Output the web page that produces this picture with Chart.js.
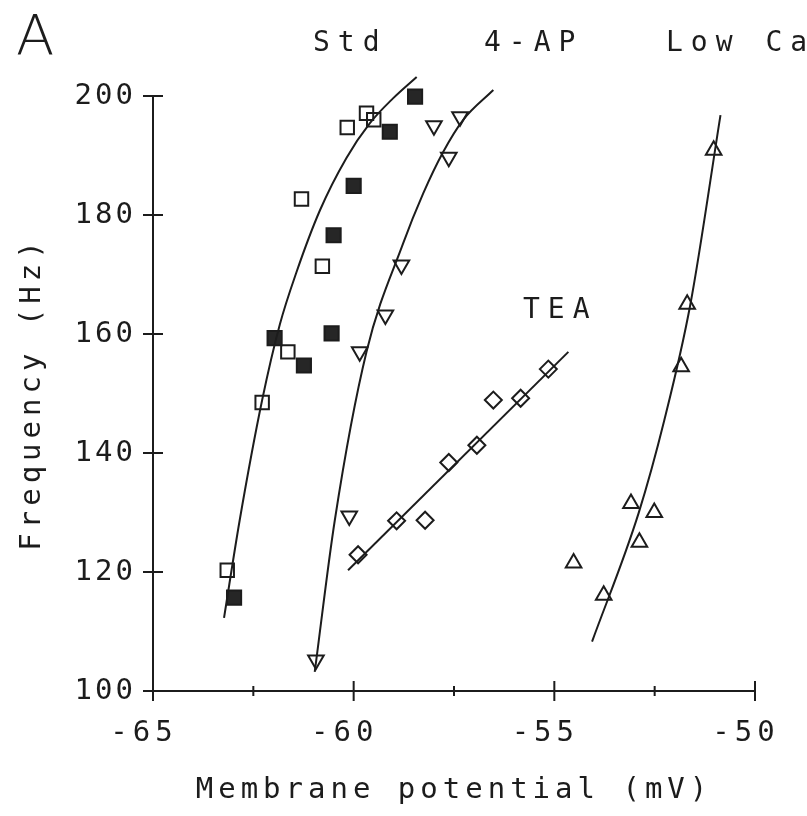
<!DOCTYPE html>
<html><head><meta charset="utf-8">
<script src="https://cdn.jsdelivr.net/npm/chart.js@4/dist/chart.umd.min.js"></script>
<style>html,body{margin:0;padding:0;background:#fff;}canvas{display:block;}</style>
</head><body>
<canvas id="c" width="807" height="816"></canvas>
<script>
// ---- data ----
const xTitle = 'Membrane potential (mV)';
const yTitle = 'Frequency (Hz)';
const panelLabel = 'A';
const groupLabels = ['Std', '4-AP', 'Low Ca', 'TEA'];

const stdOpenX = [-63.15, -62.28, -61.64, -61.30, -60.78, -60.16, -59.68, -59.50];
const stdOpenY = [120.3, 148.5, 157.0, 182.7, 171.4, 194.7, 197.1, 196.0];

const stdFilledX = [-62.98, -61.97, -61.24, -60.55, -60.50, -60.00, -59.10, -58.47];
const stdFilledY = [115.7, 159.3, 154.7, 160.1, 176.6, 184.9, 194.0, 199.9];

const apX = [-60.94, -60.11, -59.85, -59.21, -58.81, -58.00, -57.63, -57.35];
const apY = [105.2, 129.4, 157.0, 163.2, 171.6, 195.0, 189.7, 196.5];

const teaX = [-59.89, -58.93, -58.22, -57.63, -56.93, -56.52, -55.84, -55.15];
const teaY = [122.9, 128.6, 128.7, 138.4, 141.3, 148.9, 149.2, 154.1];

const lowCaX = [-54.52, -53.77, -53.09, -52.88, -52.51, -51.84, -51.69, -51.03];
const lowCaY = [121.5, 116.1, 131.5, 125.0, 130.0, 154.5, 165.0, 190.9];

// fitted curves
const stdFitX = [-63.23, -62.84, -62.28, -61.84, -61.43, -60.84, -60.18, -59.60, -59.02, -58.43];
const stdFitY = [112.3, 128.7, 148.9, 161.6, 170.3, 180.8, 189.6, 195.4, 199.6, 203.2];

const apFitX = [-60.97, -60.47, -59.68, -58.77, -58.27, -57.77, -57.27, -56.52];
const apFitY = [103.2, 128.7, 157.0, 175.2, 183.6, 190.6, 196.0, 201.0];

const teaFitX = [-60.14, -54.65];
const teaFitY = [120.3, 157.0];

const lowCaFitX = [-54.06, -52.90, -52.26, -51.61, -50.86];
const lowCaFitY = [108.3, 129.9, 145.5, 165.0, 196.8];

const xMin = -65, xMax = -50, xStep = 2.5;
const yMin = 100, yMax = 200, yStep = 20;

// ---- build ----
const pts = (xs, ys) => xs.map((x, i) => ({x, y: ys[i]}));
const INK = '#1c1c1c';

function curve(xs, ys) {
  return {type: 'scatter', data: pts(xs, ys), showLine: true, pointRadius: 0,
    borderColor: INK, borderWidth: 2, cubicInterpolationMode: 'monotone', clip: false, fill: false};
}
function marks(xs, ys, style, r, filled, rot) {
  return {type: 'scatter', data: pts(xs, ys), showLine: false, pointStyle: style,
    pointRadius: r, pointRotation: rot || 0, pointBorderWidth: 2,
    pointBorderColor: INK, pointBackgroundColor: filled ? '#262626' : 'rgba(0,0,0,0)',
    borderColor: INK, backgroundColor: filled ? '#262626' : 'rgba(0,0,0,0)', clip: false};
}

function patch(s, fn, spacing) {
  const orig = s[fn];
  s[fn] = function () {
    const c = this.ctx, prev = c.letterSpacing;
    c.letterSpacing = spacing;
    orig.apply(this, arguments);
    c.letterSpacing = prev;
  };
}

const decor = {
  id: 'decor',
  afterLayout(chart) {
    const sx = chart.scales.x, sy = chart.scales.y;
    if (!sx._lsPatched) { patch(sx, 'drawTitle', '5px'); patch(sx, 'drawLabels', '5px'); sx._lsPatched = true; }
    if (!sy._lsPatched) { patch(sy, 'drawTitle', '5px'); patch(sy, 'drawLabels', '3px'); sy._lsPatched = true; }
  },
  beforeDraw(chart) {
    const c = chart.ctx;
    c.save(); c.fillStyle = '#fff'; c.fillRect(0, 0, chart.width, chart.height); c.restore();
  },
  afterDraw(chart) {
    const c = chart.ctx, xs = chart.scales.x, ys = chart.scales.y, a = chart.chartArea;
    c.save();
    c.strokeStyle = INK; c.lineWidth = 2; c.beginPath();
    ys.ticks.forEach(t => {
      const py = ys.getPixelForValue(t.value);
      c.moveTo(a.left - 10, py); c.lineTo(a.left + 10, py);
    });
    xs.ticks.forEach(t => {
      const px = xs.getPixelForValue(t.value);
      const L = Math.abs(t.value % 5) < 1e-6 ? 10 : 5;
      c.moveTo(px, a.bottom - L); c.lineTo(px, a.bottom + L);
    });
    c.stroke();
    c.fillStyle = INK; c.textBaseline = 'middle'; c.textAlign = 'left';
    c.letterSpacing = '0px';
    c.font = '200 56px "DejaVu Sans"';
    c.fillText(panelLabel, 16, 39);
    c.letterSpacing = '8px';
    c.font = '28px "DejaVu Sans Mono"';
    c.fillText(groupLabels[0], 313, 44);
    c.fillText(groupLabels[1], 484, 44);
    c.fillText(groupLabels[2], 666, 44);
    c.fillText(groupLabels[3], 523, 311);
    c.restore();
  }
};

const tickFont = {family: 'DejaVu Sans Mono', size: 29, weight: 'normal'};

new Chart(document.getElementById('c'), {
  type: 'scatter',
  data: {datasets: [
    curve(stdFitX, stdFitY),
    curve(apFitX, apFitY),
    curve(teaFitX, teaFitY),
    curve(lowCaFitX, lowCaFitY),
    marks(stdOpenX, stdOpenY, 'rect', 9.5, false),
    marks(stdFilledX, stdFilledY, 'rect', 10, true),
    marks(apX, apY, 'triangle', 9, false, 180),
    marks(teaX, teaY, 'rectRot', 8.5, false),
    marks(lowCaX, lowCaY, 'triangle', 9, false)
  ]},
  options: {
    responsive: false, animation: false, devicePixelRatio: 1,
    layout: {padding: {top: 96, right: 52, left: 0, bottom: 0}},
    plugins: {legend: {display: false}, tooltip: {enabled: false}, title: {display: false}},
    scales: {
      x: {
        type: 'linear', min: xMin, max: xMax,
        grid: {display: false, drawTicks: false},
        border: {display: true, color: INK, width: 2},
        ticks: {stepSize: xStep, autoSkip: false, maxRotation: 0, padding: 25, labelOffset: -9,
          color: INK, font: tickFont,
          callback: v => (Math.abs(v % 5) < 1e-6 ? String(v) : '')},
        title: {display: true, text: xTitle, color: INK, font: tickFont, padding: {top: 0, bottom: 8}},
        afterFit: s => { s.height = 125; s.paddingLeft = 0; s.paddingRight = 0; }
      },
      y: {
        type: 'linear', min: yMin, max: yMax,
        grid: {display: false, drawTicks: false},
        border: {display: true, color: INK, width: 2},
        ticks: {stepSize: yStep, padding: 17, color: INK, font: tickFont},
        title: {display: true, text: yTitle, color: INK, font: tickFont, padding: {top: 15, bottom: 0}},
        afterFit: s => { s.width = 153; s.paddingTop = 0; s.paddingBottom = 0; }
      }
    }
  },
  plugins: [decor]
});
</script>
</body></html>
